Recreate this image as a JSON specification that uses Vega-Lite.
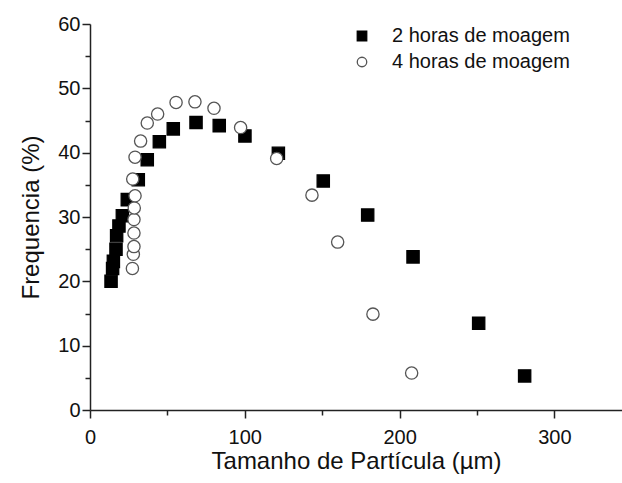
{
  "$schema": "https://vega.github.io/schema/vega-lite/v6.json",
  "width": 532,
  "height": 386,
  "autosize": "none",
  "padding": {"left": 90, "top": 24, "right": 0, "bottom": 73},
  "background": "white",
  "config": {
    "view": {"stroke": null},
    "font": "Liberation Sans",
    "axis": {"grid": false, "ticks": true, "domainColor": "#222", "tickColor": "#222", "domainWidth": 1.5, "tickWidth": 1.5, "labelColor": "#111", "titleColor": "#111", "labelFont": "Liberation Sans", "titleFont": "Liberation Sans", "titleFontWeight": "normal"}
  },
  "data": {
    "values": [
      {"x": 13.6, "y": 20.0, "s": "2 horas de moagem"},
      {"x": 14.6, "y": 22.0, "s": "2 horas de moagem"},
      {"x": 15.1, "y": 23.1, "s": "2 horas de moagem"},
      {"x": 16.8, "y": 25.0, "s": "2 horas de moagem"},
      {"x": 17.2, "y": 27.1, "s": "2 horas de moagem"},
      {"x": 18.7, "y": 28.6, "s": "2 horas de moagem"},
      {"x": 20.9, "y": 30.2, "s": "2 horas de moagem"},
      {"x": 24.1, "y": 32.7, "s": "2 horas de moagem"},
      {"x": 31.2, "y": 35.8, "s": "2 horas de moagem"},
      {"x": 37.0, "y": 38.9, "s": "2 horas de moagem"},
      {"x": 44.8, "y": 41.7, "s": "2 horas de moagem"},
      {"x": 53.8, "y": 43.7, "s": "2 horas de moagem"},
      {"x": 68.5, "y": 44.7, "s": "2 horas de moagem"},
      {"x": 83.5, "y": 44.2, "s": "2 horas de moagem"},
      {"x": 100.1, "y": 42.6, "s": "2 horas de moagem"},
      {"x": 121.7, "y": 39.9, "s": "2 horas de moagem"},
      {"x": 150.7, "y": 35.6, "s": "2 horas de moagem"},
      {"x": 179.4, "y": 30.3, "s": "2 horas de moagem"},
      {"x": 208.7, "y": 23.8, "s": "2 horas de moagem"},
      {"x": 251.1, "y": 13.5, "s": "2 horas de moagem"},
      {"x": 280.8, "y": 5.3, "s": "2 horas de moagem"},
      {"x": 27.4, "y": 22.0, "s": "4 horas de moagem"},
      {"x": 28.0, "y": 24.2, "s": "4 horas de moagem"},
      {"x": 28.4, "y": 25.4, "s": "4 horas de moagem"},
      {"x": 28.4, "y": 27.5, "s": "4 horas de moagem"},
      {"x": 28.4, "y": 29.6, "s": "4 horas de moagem"},
      {"x": 28.6, "y": 31.4, "s": "4 horas de moagem"},
      {"x": 29.1, "y": 33.3, "s": "4 horas de moagem"},
      {"x": 27.6, "y": 35.9, "s": "4 horas de moagem"},
      {"x": 29.1, "y": 39.3, "s": "4 horas de moagem"},
      {"x": 32.7, "y": 41.8, "s": "4 horas de moagem"},
      {"x": 37.0, "y": 44.6, "s": "4 horas de moagem"},
      {"x": 43.7, "y": 46.0, "s": "4 horas de moagem"},
      {"x": 55.6, "y": 47.8, "s": "4 horas de moagem"},
      {"x": 67.8, "y": 47.9, "s": "4 horas de moagem"},
      {"x": 80.1, "y": 46.9, "s": "4 horas de moagem"},
      {"x": 97.3, "y": 43.9, "s": "4 horas de moagem"},
      {"x": 120.6, "y": 39.1, "s": "4 horas de moagem"},
      {"x": 143.4, "y": 33.4, "s": "4 horas de moagem"},
      {"x": 160.0, "y": 26.1, "s": "4 horas de moagem"},
      {"x": 182.8, "y": 14.9, "s": "4 horas de moagem"},
      {"x": 207.8, "y": 5.75, "s": "4 horas de moagem"}
    ]
  },
  "resolve": {"axis": {"x": "independent", "y": "independent"}},
  "layer": [
    {
      "mark": {"type": "point", "opacity": 0},
      "encoding": {
        "x": {
          "field": "x", "type": "quantitative",
          "scale": {"domain": [0, 343.7], "nice": false, "zero": false},
          "axis": {"orient": "bottom", "title": null, "values": [50, 150, 250], "labels": false, "domain": false, "ticks": true, "tickSize": 5}
        },
        "y": {
          "field": "y", "type": "quantitative",
          "scale": {"domain": [0, 60], "nice": false},
          "axis": {"orient": "left", "title": null, "values": [5, 15, 25, 35, 45, 55], "labels": false, "domain": false, "ticks": true, "tickSize": 5}
        }
      }
    },
    {
      "mark": {"type": "point", "size": 150, "strokeWidth": 1.3, "opacity": 1},
      "encoding": {
        "x": {
          "field": "x", "type": "quantitative",
          "axis": {
            "orient": "bottom",
            "title": "Tamanho de Partícula (µm)",
            "values": [0, 100, 200, 300],
            "ticks": true, "tickSize": 8,
            "labelFontSize": 20, "titleFontSize": 24, "labelPadding": 9, "titlePadding": 2,
            "labelFlush": false
          }
        },
        "y": {
          "field": "y", "type": "quantitative",
          "axis": {
            "orient": "left",
            "title": "Frequencia (%)",
            "values": [0, 10, 20, 30, 40, 50, 60],
            "ticks": true, "tickSize": 8,
            "labelFontSize": 20, "titleFontSize": 24, "labelPadding": 2, "titlePadding": 14,
            "labelFlush": false
          }
        },
        "shape": {
          "field": "s", "type": "nominal",
          "scale": {"domain": ["2 horas de moagem", "4 horas de moagem"], "range": ["square", "circle"]},
          "legend": {
            "title": null, "orient": "none", "legendX": 262, "legendY": 2,
            "labelFontSize": 20, "labelFont": "Liberation Sans", "labelColor": "#111", "labelLimit": 400,
            "symbolSize": 90, "symbolStrokeWidth": 1.3, "rowPadding": 6, "labelOffset": 20
          }
        },
        "fill": {
          "field": "s", "type": "nominal",
          "scale": {"domain": ["2 horas de moagem", "4 horas de moagem"], "range": ["#000000", "#ffffff"]}
        },
        "stroke": {
          "field": "s", "type": "nominal",
          "scale": {"domain": ["2 horas de moagem", "4 horas de moagem"], "range": ["#000000", "#555555"]}
        }
      }
    }
  ]
}
